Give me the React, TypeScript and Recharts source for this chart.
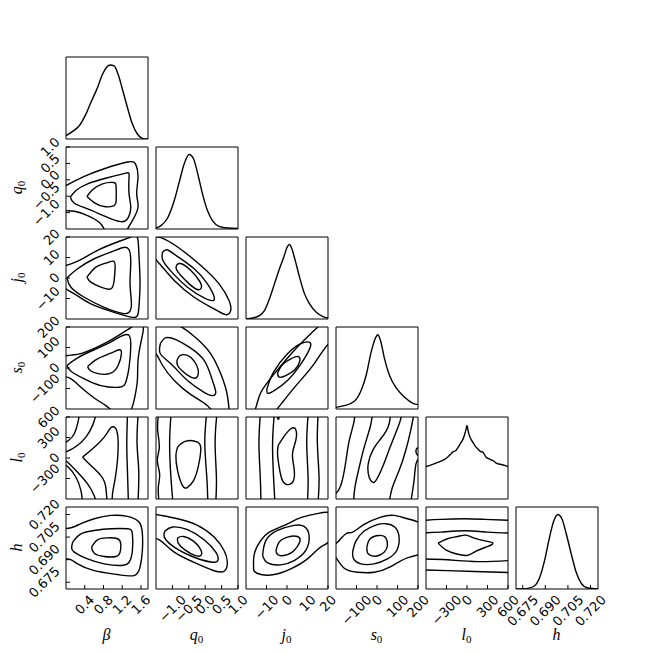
import React from 'react';
import { LineChart, Line, XAxis, YAxis } from 'recharts';

type Pt = [number, number];

// axis ranges, ticks and tick labels
const BETA_DOMAIN: [number, number] = [0, 1.75];
const Q0_DOMAIN: [number, number] = [-1.5, 1.0];
const J0_DOMAIN: [number, number] = [-20, 20];
const S0_DOMAIN: [number, number] = [-200, 200];
const L0_DOMAIN: [number, number] = [-600, 600];
const H_DOMAIN: [number, number] = [0.6705, 0.725];

const BETA_TICKS = [0.4, 0.8, 1.2, 1.6];
const Q0_TICKS = [-1.0, -0.5, 0.0, 0.5, 1.0];
const J0_TICKS = [-10, 0, 10, 20];
const S0_TICKS = [-100, 0, 100, 200];
const L0_TICKS = [-300, 0, 300, 600];
const H_TICKS = [0.675, 0.69, 0.705, 0.72];

const BETA_LABELS = ['0.4', '0.8', '1.2', '1.6'];
const Q0_LABELS = ['−1.0', '−0.5', '0.0', '0.5', '1.0'];
const J0_LABELS = ['−10', '0', '10', '20'];
const S0_LABELS = ['−100', '0', '100', '200'];
const L0_LABELS = ['−300', '0', '300', '600'];
const H_LABELS = ['0.675', '0.690', '0.705', '0.720'];

// 1D marginals (normalised, y range 0..1.1)
const BETA_HIST: Pt[] = [[0, 0.045], [0.142, 0.102], [0.283, 0.178], [0.425, 0.334], [0.531, 0.49], [0.673, 0.69], [0.779, 0.868], [0.871, 0.967], [0.942, 0.993], [1.027, 0.98], [1.112, 0.868], [1.204, 0.668], [1.311, 0.423], [1.417, 0.2], [1.523, 0.067], [1.63, 0.009], [1.75, 0]];
const Q0_HIST: Pt[] = [[-1.5, 0.013], [-1.348, 0.045], [-1.146, 0.148], [-0.943, 0.382], [-0.792, 0.629], [-0.64, 0.876], [-0.488, 1.0], [-0.356, 0.943], [-0.215, 0.718], [-0.083, 0.471], [0.069, 0.247], [0.221, 0.112], [0.423, 0.036], [0.676, 0.013], [1.0, 0.009]];
const J0_HIST: Pt[] = [[-20, 0], [-16.73, 0.013], [-13.47, 0.045], [-11.02, 0.112], [-8.57, 0.269], [-6.12, 0.471], [-3.67, 0.673], [-1.55, 0.831], [0.08, 0.965], [1.23, 1.0], [2.37, 0.943], [4.0, 0.786], [6.12, 0.561], [8.57, 0.337], [11.02, 0.202], [14.29, 0.09], [17.55, 0.031], [20, 0.013]];
const S0_HIST: Pt[] = [[-200, 0.022], [-159.2, 0.045], [-110.2, 0.103], [-77.6, 0.247], [-53.1, 0.449], [-28.6, 0.763], [-9.0, 0.943], [4.1, 0.997], [17.1, 0.92], [36.7, 0.673], [61.2, 0.449], [93.9, 0.283], [134.7, 0.157], [175.5, 0.076], [200, 0.058]];
const L0_HIST: Pt[] = [[-600, 0.435], [-540, 0.452], [-482, 0.471], [-430, 0.49], [-384, 0.507], [-330, 0.53], [-285, 0.561], [-240, 0.6], [-211, 0.629], [-162, 0.651], [-125, 0.7], [-98, 0.741], [-60, 0.8], [-39, 0.853], [-15, 0.93], [0, 0.988], [15, 0.92], [34, 0.853], [60, 0.8], [84, 0.763], [120, 0.71], [157, 0.673], [195, 0.64], [231, 0.629], [280, 0.561], [320, 0.54], [354, 0.525], [390, 0.51], [428, 0.481], [465, 0.47], [502, 0.463], [550, 0.45], [600, 0.435]];
const H_HIST: Pt[] = [[0.6705, 0], [0.6783, 0.009], [0.6827, 0.04], [0.6861, 0.148], [0.6894, 0.373], [0.6927, 0.687], [0.6956, 0.911], [0.6983, 1.0], [0.701, 0.943], [0.7039, 0.741], [0.7072, 0.471], [0.7105, 0.224], [0.7139, 0.076], [0.7183, 0.013], [0.725, 0]];

const BETA_HIST_TICKS = [0.125, 0.25, 0.375, 0.5, 0.625, 0.75, 0.875];
const Q0_HIST_TICKS = [0.19, 0.37, 0.56, 0.74, 0.93];
const J0_HIST_TICKS = [0.265, 0.53, 0.795, 1.06];
const S0_HIST_TICKS = [0.18, 0.36, 0.54, 0.72, 0.9];
const L0_HIST_TICKS = [0.166, 0.332, 0.498, 0.664, 0.83];
const H_HIST_TICKS = [0.166, 0.332, 0.498, 0.664, 0.83, 0.996];

// 2D contours: closed rings and open (clipped) curves, x var first
const Q0_BETA_RINGS: Pt[][] = [
  [[0.446, -0.51], [0.567, -0.306], [0.779, -0.122], [1.013, -0.082], [1.07, -0.224], [1.07, -0.633], [1.013, -0.796], [0.815, -0.816], [0.602, -0.694]],
  [[0.092, -0.531], [0.213, -0.327], [0.461, -0.122], [0.886, 0.061], [1.275, 0.204], [1.346, 0.102], [1.346, -0.429], [1.382, -0.837], [1.311, -1.194], [1.169, -1.276], [0.886, -1.143], [0.461, -0.888], [0.177, -0.714]],
];
const Q0_BETA_OPEN: Pt[][] = [
  [[-0.05, -0.2], [0, -0.173], [0.354, 0.082], [0.815, 0.337], [1.311, 0.541], [1.488, 0.469], [1.537, 0.082], [1.509, -0.429], [1.537, -0.837], [1.417, -1.245], [1.311, -1.5], [1.27, -1.6]],
  [[-0.05, -0.95], [0.177, -0.959], [0.461, -1.092], [0.709, -1.296], [0.815, -1.5], [0.85, -1.6]],
];

const J0_BETA_RINGS: Pt[][] = [
  [[0.446, 0.41], [0.638, 5.31], [0.85, 7.27], [1.013, 8.24], [1.049, 5.31], [1.027, -1.22], [0.956, -5.31], [0.744, -4.49], [0.531, -2.04]],
  [[0.021, 0.08], [0.248, 4.49], [0.602, 9.39], [0.956, 12.65], [1.204, 14.78], [1.346, 13.8], [1.382, 6.94], [1.367, -2.86], [1.396, -12.65], [1.346, -16.73], [1.204, -17.23], [0.815, -14.29], [0.39, -9.39], [0.106, -4.49]],
  [[-0.106, 5.31], [0.248, 8.24], [0.673, 13.47], [1.098, 17.55], [1.382, 20], [1.488, 20.82], [1.537, 18.37], [1.559, 10.2], [1.58, -1.22], [1.566, -11.02], [1.537, -17.55], [1.417, -19.18], [1.027, -16.73], [0.531, -12.65], [0.177, -7.76], [-0.106, -2.86]],
];

const J0_Q0_RINGS: Pt[][] = [
  [[-0.862, 6.61], [-0.721, 6.94], [-0.437, 3.67], [-0.184, -1.22], [-0.113, -4.49], [-0.235, -5.63], [-0.488, -2.86], [-0.741, 1.22], [-0.883, 4.49]],
  [[-1.298, 12.65], [-1.166, 13.8], [-0.893, 11.02], [-0.336, 4.49], [0.069, -2.86], [0.271, -9.06], [0.221, -11.02], [-0.032, -9.71], [-0.539, -4.49], [-1.045, 3.35], [-1.298, 8.9]],
  [[-1.601, 20], [-1.348, 19.67], [-0.842, 15.1], [-0.134, 6.12], [0.423, -2.86], [0.727, -11.02], [0.777, -15.92], [0.625, -17.88], [0.271, -15.1], [-0.336, -9.39], [-0.943, -1.22], [-1.348, 6.12], [-1.601, 11.84]],
];

const S0_BETA_RINGS: Pt[][] = [
  [[0.461, 7.35], [0.673, 44.9], [0.956, 72.7], [1.134, 89.0], [1.183, 69.4], [1.112, 12.2], [0.956, -25.3], [0.709, -28.6], [0.517, -12.2]],
  [[0.021, 12.2], [0.248, 49.8], [0.602, 89.0], [0.886, 118.4], [1.169, 154.3], [1.346, 159.2], [1.382, 102.0], [1.346, 4.1], [1.275, -69.4], [1.134, -93.9], [0.744, -85.7], [0.39, -53.1], [0.106, -15.5]],
  [[-0.106, 56.3], [0.106, 62.9], [0.354, 72.7], [0.815, 118.4], [1.204, 170.6], [1.452, 208.2], [1.559, 224.5], [1.651, 203.3], [1.608, 134.7], [1.537, 36.7], [1.523, -61.2], [1.467, -142.9], [1.396, -200], [1.24, -240.8], [1.027, -216.3], [0.85, -183.7], [0.602, -146.1], [0.319, -93.9], [0.071, -48.2], [-0.106, -28.6]],
];

const S0_Q0_RINGS: Pt[][] = [
  [[-0.862, 36.7], [-0.761, 61.2], [-0.539, 61.2], [-0.336, 33.5], [-0.215, -9.0], [-0.255, -44.9], [-0.437, -44.9], [-0.69, -15.5], [-0.842, 12.2]],
  [[-1.368, 118.4], [-1.196, 147.8], [-0.893, 138.0], [-0.488, 102.0], [-0.032, 36.7], [0.221, -61.2], [0.322, -118.4], [0.221, -134.7], [-0.032, -118.4], [-0.539, -61.2], [-1.045, 20.4], [-1.368, 69.4]],
  [[-1.045, 224.5], [-0.69, 196.7], [-0.285, 147.8], [0.17, 69.4], [0.474, -28.6], [0.656, -118.4], [0.727, -200], [0.676, -240.8], [0.372, -232.7], [0.069, -183.7], [-0.437, -129.8], [-0.943, -61.2], [-1.298, 12.2], [-1.5, 69.4], [-1.702, 118.4], [-1.601, 200]],
];

const S0_J0_RINGS: Pt[][] = [
  [[-4.62, -25.3], [-2.19, 17.1], [1.86, 44.9], [5.42, 56.3], [6.23, 33.5], [3.81, -9.0], [-0.57, -36.7], [-3.81, -44.9]],
  [[-9.8, -102.0], [-6.56, -20.4], [0.24, 69.4], [6.72, 118.4], [10.77, 126.5], [11.26, 98.8], [7.04, 23.7], [0.24, -61.2], [-6.24, -110.2], [-9.47, -123.3]],
  [[-17.57, -240.8], [-15.14, -191.8], [-12.71, -118.4], [-6.24, -28.6], [3.48, 85.7], [11.58, 167.3], [18.06, 224.5], [22.11, 216.3], [22.91, 134.7], [20.0, 115.1], [13.2, 20.4], [5.1, -77.6], [-2.19, -167.3], [-6.24, -216.3], [-11.09, -249.0]],
];

const L0_BETA_RINGS: Pt[][] = [
  [[0.354, 12.2], [0.567, 134.7], [0.815, 306.1], [0.956, 443.3], [1.063, 428.6], [1.112, 257.1], [1.098, -36.7], [1.042, -330.6], [0.992, -526.5], [0.971, -649], [0.886, -649], [0.85, -428.6], [0.744, -257.1], [0.531, -110.2]],
];
const L0_BETA_OPEN: Pt[][] = [
  [[0.283, 624.5], [0.248, 502], [0.177, 355], [0.071, 267], [-0.035, 218]],
  [[0.638, 624.5], [0.567, 477.6], [0.425, 306.1], [0.213, 169], [0.035, 100.4], [-0.071, 71]],
  [[-0.071, -26.9], [0.035, -61.2], [0.248, -208.2], [0.461, -379.6], [0.602, -551], [0.638, -649]],
  [[-0.071, -85.7], [0.035, -124.9], [0.213, -281.6], [0.319, -477.6], [0.354, -649]],
  [[1.311, 624.5], [1.297, 208.2], [1.311, -183.7], [1.332, -649]],
  [[1.537, 624.5], [1.516, 208.2], [1.552, -183.7], [1.537, -649]],
];

const L0_Q0_RINGS: Pt[][] = [
  [[-0.842, 159.2], [-0.589, 247.3], [-0.235, 232.7], [-0.134, 120], [-0.215, -134.7], [-0.356, -330.6], [-0.539, -428.6], [-0.69, -404.1], [-0.842, -183.7], [-0.893, 36.7]],
];
const L0_Q0_OPEN: Pt[][] = [
  [[-1.429, 624.5], [-1.449, 404], [-1.399, 159], [-1.46, -36.7], [-1.389, -232.7], [-1.429, -428.6], [-1.409, -649]],
  [[-1.045, 624.5], [-1.085, 208.2], [-1.045, -281.6], [-0.984, -649]],
  [[0.038, 624.5], [-0.012, 208.2], [0.049, -281.6], [0.079, -649]],
  [[0.352, 624.5], [0.302, 208.2], [0.342, -281.6], [0.322, -649]],
];

const L0_J0_RINGS: Pt[][] = [
  [[-4.29, 183.7], [-1.7, 306.1], [1.86, 428.6], [4.29, 413.9], [4.29, 257.1], [2.67, 61.2], [3.48, -159.2], [3.16, -330.6], [0.73, -389.4], [-2.19, -330.6], [-3.81, -134.7], [-4.62, 61.2]],
  [[-4.7, 585], [-4.3, 605], [-3.9, 585], [-4.3, 568]],
];
const L0_J0_OPEN: Pt[][] = [
  [[-13.04, 624.5], [-13.68, 208.2], [-13.04, -281.6], [-12.71, -649]],
  [[-6.24, 624.5], [-7.04, 208.2], [-6.56, -281.6], [-5.91, -649]],
  [[10.28, 624.5], [9.63, 208.2], [10.28, -281.6], [9.96, -649]],
  [[15.14, 624.5], [14.82, 208.2], [15.63, -281.6], [15.14, -649]],
];

const L0_S0_RINGS: Pt[][] = [
  [[67.2, 649], [54.2, 453.1], [18.6, 281.6], [-17.0, 134.7], [-42.9, -85.7], [-38.1, -281.6], [-21.9, -355.1], [-5.7, -330.6], [26.7, -134.7], [64.0, 159.2], [99.6, 428.6], [119.0, 649], [91.5, 722.4]],
];
const L0_S0_OPEN: Pt[][] = [
  [[-107.7, 649], [-114.2, 502], [-135.2, 257.1], [-151.4, -36.7], [-167.6, -306.1], [-188.7, -477.6], [-216.2, -551]],
  [[-21.9, 649], [-33.2, 453.1], [-62.4, 159.2], [-86.6, -134.7], [-107.7, -428.6], [-114.2, -649]],
  [[180.6, 649], [164.4, 404.1], [140.1, 110.2], [107.7, -183.7], [75.3, -428.6], [59.1, -649]],
  [[209.7, 159.2], [193.5, 134.7], [190.3, 85.7], [196.8, 46.5], [209.7, 36.7]],
  [[209.7, 12.2], [190.3, -85.7], [180.6, -330.6], [164.4, -649]],
];

const H_BETA_RINGS: Pt[][] = [
  [[0.546, 0.6983], [0.673, 0.7032], [0.886, 0.7045], [1.098, 0.7039], [1.169, 0.7005], [1.155, 0.695], [1.063, 0.6921], [0.815, 0.6921], [0.602, 0.6943]],
  [[0.142, 0.7017], [0.319, 0.7072], [0.602, 0.7094], [0.956, 0.7105], [1.311, 0.7105], [1.417, 0.7072], [1.417, 0.6961], [1.346, 0.6883], [1.169, 0.6861], [0.815, 0.6872], [0.461, 0.6905], [0.177, 0.695], [0.12, 0.6983]],
  [[-0.106, 0.7105], [0.106, 0.7112], [0.319, 0.7139], [0.602, 0.7172], [0.956, 0.7194], [1.311, 0.7188], [1.559, 0.715], [1.63, 0.7072], [1.63, 0.6961], [1.58, 0.685], [1.452, 0.6794], [1.098, 0.6801], [0.602, 0.6827], [0.248, 0.6872], [0.035, 0.6905], [-0.106, 0.6912]],
];

const H_Q0_RINGS: Pt[][] = [
  [[-0.842, 0.7045], [-0.66, 0.7054], [-0.356, 0.7023], [-0.134, 0.6965], [-0.134, 0.6928], [-0.316, 0.6928], [-0.619, 0.6965], [-0.822, 0.701]],
  [[-1.227, 0.709], [-0.994, 0.7117], [-0.539, 0.7099], [-0.032, 0.7032], [0.322, 0.695], [0.393, 0.6899], [0.221, 0.6883], [-0.336, 0.6916], [-0.943, 0.6983], [-1.247, 0.705]],
  [[-1.652, 0.7206], [-1.348, 0.7194], [-0.842, 0.7172], [-0.235, 0.7128], [0.271, 0.705], [0.575, 0.6961], [0.676, 0.6883], [0.595, 0.6827], [0.322, 0.6823], [-0.235, 0.6872], [-0.943, 0.695], [-1.399, 0.7032], [-1.652, 0.7061]],
];

const H_J0_RINGS: Pt[][] = [
  [[-5.42, 0.6956], [-3.81, 0.7017], [0.24, 0.705], [5.1, 0.7054], [6.23, 0.7017], [3.48, 0.6961], [0.24, 0.6934], [-3.81, 0.6928]],
  [[-11.9, 0.6928], [-10.28, 0.7028], [-4.62, 0.7094], [3.48, 0.7128], [8.34, 0.7121], [10.77, 0.7061], [9.15, 0.6961], [3.48, 0.6894], [-2.99, 0.6865], [-9.47, 0.6879]],
  [[-16.28, 0.685], [-15.95, 0.6939], [-13.04, 0.7023], [-8.66, 0.7083], [-1.38, 0.7128], [6.72, 0.7179], [14.82, 0.7206], [22.11, 0.7194], [22.11, 0.705], [16.44, 0.6983], [9.96, 0.6905], [1.86, 0.6839], [-6.24, 0.6801], [-12.71, 0.6801], [-15.95, 0.6823]],
];

const H_S0_RINGS: Pt[][] = [
  [[-49.4, 0.6983], [-33.2, 0.7039], [10.5, 0.7061], [42.9, 0.7045], [51.0, 0.6994], [34.8, 0.695], [-5.7, 0.6923], [-42.9, 0.6939]],
  [[-119.0, 0.695], [-102.8, 0.7023], [-62.4, 0.709], [-5.7, 0.713], [42.9, 0.7139], [86.6, 0.7117], [107.7, 0.705], [96.4, 0.6961], [51.0, 0.6905], [-13.8, 0.6872], [-78.5, 0.6872], [-114.2, 0.6905]],
  [[-224.3, 0.6983], [-191.9, 0.7017], [-151.4, 0.7072], [-119.0, 0.7083], [-62.4, 0.7134], [18.6, 0.7183], [83.4, 0.7194], [148.2, 0.7172], [221.0, 0.7134], [229.1, 0.705], [221.0, 0.695], [148.2, 0.6912], [67.2, 0.6854], [-13.8, 0.6816], [-94.7, 0.6816], [-159.5, 0.6843], [-200, 0.6912], [-224.3, 0.6939]],
];

const H_L0_RINGS: Pt[][] = [
  [[-423.0, 0.701], [-285.2, 0.7039], [-137.7, 0.7054], [-14.8, 0.7063], [108.2, 0.7043], [280.3, 0.7023], [378.7, 0.701], [304.9, 0.6988], [132.8, 0.6956], [0, 0.6928], [-162.3, 0.6939], [-309.8, 0.6965]],
];
const H_L0_OPEN: Pt[][] = [
  [[-629.5, 0.7161], [-383.6, 0.7168], [-39.3, 0.7172], [255.7, 0.7168], [624.6, 0.7161]],
  [[-629.5, 0.7079], [-383.6, 0.7083], [-39.3, 0.7092], [304.9, 0.7083], [624.6, 0.7077]],
  [[-629.5, 0.6905], [-285.2, 0.6899], [157.4, 0.6887], [624.6, 0.6894]],
  [[-629.5, 0.6832], [-285.2, 0.6827], [108.2, 0.6821], [624.6, 0.6814]],
];

const VARS = [
  { domain: BETA_DOMAIN, ticks: BETA_TICKS, labels: BETA_LABELS, hist: BETA_HIST, histTicks: BETA_HIST_TICKS, name: 'β', sub: '' },
  { domain: Q0_DOMAIN, ticks: Q0_TICKS, labels: Q0_LABELS, hist: Q0_HIST, histTicks: Q0_HIST_TICKS, name: 'q', sub: '0' },
  { domain: J0_DOMAIN, ticks: J0_TICKS, labels: J0_LABELS, hist: J0_HIST, histTicks: J0_HIST_TICKS, name: 'j', sub: '0' },
  { domain: S0_DOMAIN, ticks: S0_TICKS, labels: S0_LABELS, hist: S0_HIST, histTicks: S0_HIST_TICKS, name: 's', sub: '0' },
  { domain: L0_DOMAIN, ticks: L0_TICKS, labels: L0_LABELS, hist: L0_HIST, histTicks: L0_HIST_TICKS, name: 'l', sub: '0' },
  { domain: H_DOMAIN, ticks: H_TICKS, labels: H_LABELS, hist: H_HIST, histTicks: H_HIST_TICKS, name: 'h', sub: '' },
];

const CONTOURS: Record<string, { rings: Pt[][]; open: Pt[][] }> = {
  '10': { rings: Q0_BETA_RINGS, open: Q0_BETA_OPEN },
  '20': { rings: J0_BETA_RINGS, open: [] },
  '21': { rings: J0_Q0_RINGS, open: [] },
  '30': { rings: S0_BETA_RINGS, open: [] },
  '31': { rings: S0_Q0_RINGS, open: [] },
  '32': { rings: S0_J0_RINGS, open: [] },
  '40': { rings: L0_BETA_RINGS, open: L0_BETA_OPEN },
  '41': { rings: L0_Q0_RINGS, open: L0_Q0_OPEN },
  '42': { rings: L0_J0_RINGS, open: L0_J0_OPEN },
  '43': { rings: L0_S0_RINGS, open: L0_S0_OPEN },
  '50': { rings: H_BETA_RINGS, open: [] },
  '51': { rings: H_Q0_RINGS, open: [] },
  '52': { rings: H_J0_RINGS, open: [] },
  '53': { rings: H_S0_RINGS, open: [] },
  '54': { rings: H_L0_RINGS, open: H_L0_OPEN },
};

const SIZE = 82;
const STEP = 90;
const X0 = 65.5;
const Y0 = 56.5;
const FS = 13;
const FONT = '"DejaVu Sans", sans-serif';

const textWidth = (s: string) => {
  let w = 0;
  for (const ch of s) w += (ch === '.' ? 0.318 : ch === '−' ? 0.838 : 0.636) * FS;
  return w;
};
// half the side of the bounding box of a label turned by 45 degrees
const halfDiag = (s: string) => (textWidth(s) + FS * 1.1) / (2 * Math.SQRT2);

const rotText = (s: string, cx: number, cy: number) => (
  <text x={cx} y={cy} textAnchor="middle" dominantBaseline="central" fontSize={FS} fontFamily={FONT} fill="#000"
    transform={`rotate(-45 ${cx} ${cy})`}>{s}</text>
);

function Panel({ r, c }: { r: number; c: number }) {
  const xv = VARS[c];
  const diag = r === c;
  const yv = VARS[r];
  const showY = c === 0 && r > 0;
  const showX = r === 5;
  const mt = showY ? 30 : 3;
  const mr = showX ? 30 : 3;
  const ml = showY ? 70 : showX ? 40 : 3;
  const mb = showX ? 60 : 3;
  const yDomain: [number, number] = diag ? [0, 1.1] : yv.domain;
  const yTicks = diag ? xv.histTicks : yv.ticks;

  const series: { pts: Pt[]; type: any }[] = [];
  if (diag) {
    series.push({ pts: xv.hist, type: 'monotone' });
  } else {
    const cs = CONTOURS[`${r}${c}`];
    cs.rings.forEach((ring) => series.push({ pts: [...ring, ring[0]], type: 'natural' }));
    cs.open.forEach((o) => series.push({ pts: o, type: 'natural' }));
  }

  const xTick = showX
    ? (p: any) => {
        const s = xv.labels[xv.ticks.indexOf(p.payload.value)] ?? '';
        return rotText(s, p.x, mt + SIZE + 3.5 + halfDiag(s));
      }
    : false;
  const yTick = showY
    ? (p: any) => {
        const s = yv.labels[yv.ticks.indexOf(p.payload.value)] ?? '';
        return rotText(s, ml - 3.5 - halfDiag(s), p.y);
      }
    : false;

  const axisLine = { stroke: '#000', strokeWidth: 1 };
  const tickLine = { stroke: '#000', strokeWidth: 1 };

  return (
    <div style={{ position: 'absolute', left: X0 + STEP * c - ml, top: Y0 + STEP * r - mt }}>
      <LineChart width={SIZE + ml + mr} height={SIZE + mt + mb} margin={{ top: mt, right: mr, bottom: mb, left: ml }}>
        <XAxis xAxisId="b" dataKey="x" type="number" orientation="bottom" mirror domain={xv.domain} allowDataOverflow
          ticks={xv.ticks} interval={0} tickSize={4} tick={xTick as any} axisLine={axisLine} tickLine={tickLine} />
        <XAxis xAxisId="t" dataKey="x" type="number" orientation="top" mirror domain={xv.domain} allowDataOverflow
          ticks={xv.ticks} interval={0} tickSize={4} tick={false} axisLine={axisLine} tickLine={tickLine} />
        <YAxis yAxisId="l" dataKey="y" type="number" orientation="left" mirror domain={yDomain} allowDataOverflow
          ticks={yTicks} interval={0} tickSize={4} tick={yTick as any} axisLine={axisLine} tickLine={tickLine} />
        <YAxis yAxisId="r" dataKey="y" type="number" orientation="right" mirror domain={yDomain} allowDataOverflow
          ticks={yTicks} interval={0} tickSize={4} tick={false} axisLine={axisLine} tickLine={tickLine} />
        {series.map((s, i) => (
          <Line key={i} xAxisId="b" yAxisId="l" data={s.pts.map(([x, y]) => ({ x, y }))} dataKey="y" type={s.type}
            stroke="#000" strokeWidth={1.4} dot={false} activeDot={false} isAnimationActive={false} />
        ))}
      </LineChart>
    </div>
  );
}

const LABEL_FONT = '"Liberation Serif", "DejaVu Serif", serif';

function AxisName({ name, sub }: { name: string; sub: string }) {
  return (
    <>
      <tspan fontStyle="italic">{name}</tspan>
      {sub && <tspan fontSize={11} dy={3}>{sub}</tspan>}
    </>
  );
}

export default function App() {
  const cells: { r: number; c: number }[] = [];
  for (let r = 0; r < 6; r++) for (let c = 0; c <= r; c++) cells.push({ r, c });
  return (
    <div style={{ position: 'absolute', left: 0, top: 0, width: 654, height: 654, background: '#fff' }}>
      {cells.map(({ r, c }) => (
        <Panel key={`${r}-${c}`} r={r} c={c} />
      ))}
      <svg width={654} height={654} style={{ position: 'absolute', left: 0, top: 0, pointerEvents: 'none' }}>
        {VARS.map((v, c) => (
          <text key={`x${c}`} x={X0 + STEP * c + SIZE / 2} y={640} textAnchor="middle" fontSize={16} fontFamily={LABEL_FONT} fill="#000">
            <AxisName name={v.name} sub={v.sub} />
          </text>
        ))}
        {VARS.slice(1).map((v, i) => {
          const cy = Y0 + STEP * (i + 1) + SIZE / 2;
          return (
            <text key={`y${i}`} x={22} y={cy} textAnchor="middle" fontSize={16} fontFamily={LABEL_FONT} fill="#000"
              transform={`rotate(-90 22 ${cy})`}>
              <AxisName name={v.name} sub={v.sub} />
            </text>
          );
        })}
      </svg>
    </div>
  );
}
